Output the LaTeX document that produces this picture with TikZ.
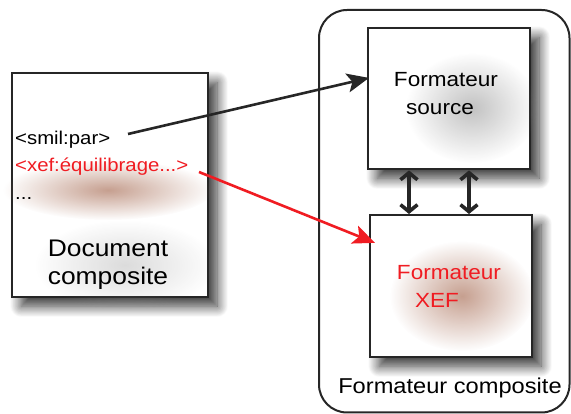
\documentclass[tikz,border=0pt]{standalone}
\usepackage{fontspec}
\setmainfont[FakeStretch=1.1]{Liberation Sans}
\usetikzlibrary{arrows.meta,shadows.blur,fadings,calc}
\definecolor{boxline}{HTML}{262626}
\definecolor{xefred}{HTML}{F01C22}
\definecolor{rusthaze}{HTML}{B07A64}
\definecolor{greyhaze}{HTML}{8E8E8E}
\tikzfading[name=softglow, inner color=transparent!10, outer color=transparent!100]
\tikzset{
  box/.style={draw=boxline, line width=2.4pt, fill=white, inner sep=0pt,
    blur shadow={shadow xshift=9pt, shadow yshift=-9pt, shadow blur radius=11pt,
      shadow blur steps=16, shadow opacity=80}},
  frame/.style={draw=boxline, line width=2pt, rounded corners=28pt},
  tag/.style={font=\fontsize{18.5}{20}\selectfont, inner sep=0pt},
  label/.style={font=\fontsize{20.5}{22}\selectfont, inner sep=0pt, anchor=base},
  biglabel/.style={font=\fontsize{24}{26}\selectfont, inner sep=0pt, anchor=base},
  outerlabel/.style={font=\fontsize{21.5}{24}\selectfont, inner sep=0pt, anchor=base},
  flow/.style={line width=2.6pt, -{Stealth[length=22pt, width=19pt, inset=5pt]}},
  exchange/.style={draw=boxline, line width=3.6pt,
    {Straight Barb[length=7pt, width=17pt]}-{Straight Barb[length=7pt, width=17pt]}},
  glow/.style={path fading=softglow, fill opacity=0.8}
}
\begin{document}
\begin{tikzpicture}[x=1pt,y=-1pt]
\useasboundingbox (0,0) rectangle (571,414);

% composite formatter frame
\draw[frame] (319,10) rectangle (569.5,412.5);

% boxes
\node[box, minimum width=196pt, minimum height=224pt, anchor=north west] (doc) at (11,72) {};
\node[box, minimum width=162pt, minimum height=141pt, anchor=north west] (src) at (367,27) {};
\node[box, minimum width=162pt, minimum height=142pt, anchor=north west] (xefbox) at (369,214) {};

% soft glows behind the texts
\fill[greyhaze, glow, fill opacity=0.35] (125,265) ellipse [x radius=90, y radius=45];
\fill[rusthaze, glow] (108,190) ellipse [x radius=105, y radius=30];
\fill[greyhaze, glow, fill opacity=0.6] (472,108) ellipse [x radius=66, y radius=55];
\fill[rusthaze, glow] (462,296) ellipse [x radius=72, y radius=55];

% document content
\node[tag, anchor=base west] (smil) at (15,145) {<smil:par>};
\node[tag, anchor=base west, text=xefred] (xefline) at (15,172) {<xef:équilibrage...>};
\node[tag, anchor=base west] (dots) at (15,200) {...};
\node[biglabel] (doc1) at (108,257) {Document};
\node[biglabel] (doc2) at (108,285) {composite};

% formatter labels
\node[label] (src1) at (446,87) {Formateur};
\node[label] (src2) at (440,115) {source};
\node[label, text=xefred] (xef1) at (449,280) {Formateur};
\node[label, text=xefred] (xef2) at (437,308) {XEF};
\node[outerlabel] (comp) at (450,393) {Formateur composite};

% dispatch arrows
\coordinate (smilout) at (128,134);
\coordinate (xefout) at (199,172);
\draw[flow, draw=boxline] (smilout) -- ($(src.north west)!0.355!(src.south west)+(2,0)$);
\draw[flow, draw=xefred] (xefout) -- ($(xefbox.north west)!0.2!(xefbox.south west)+(6,0)$);

% exchanges between the two formatters
\draw[exchange] ($(src.south west)+(42,0)$) -- ($(xefbox.north west)+(40,0)$);
\draw[exchange] ($(src.south west)+(102,0)$) -- ($(xefbox.north west)+(100,0)$);
\end{tikzpicture}
\end{document}
